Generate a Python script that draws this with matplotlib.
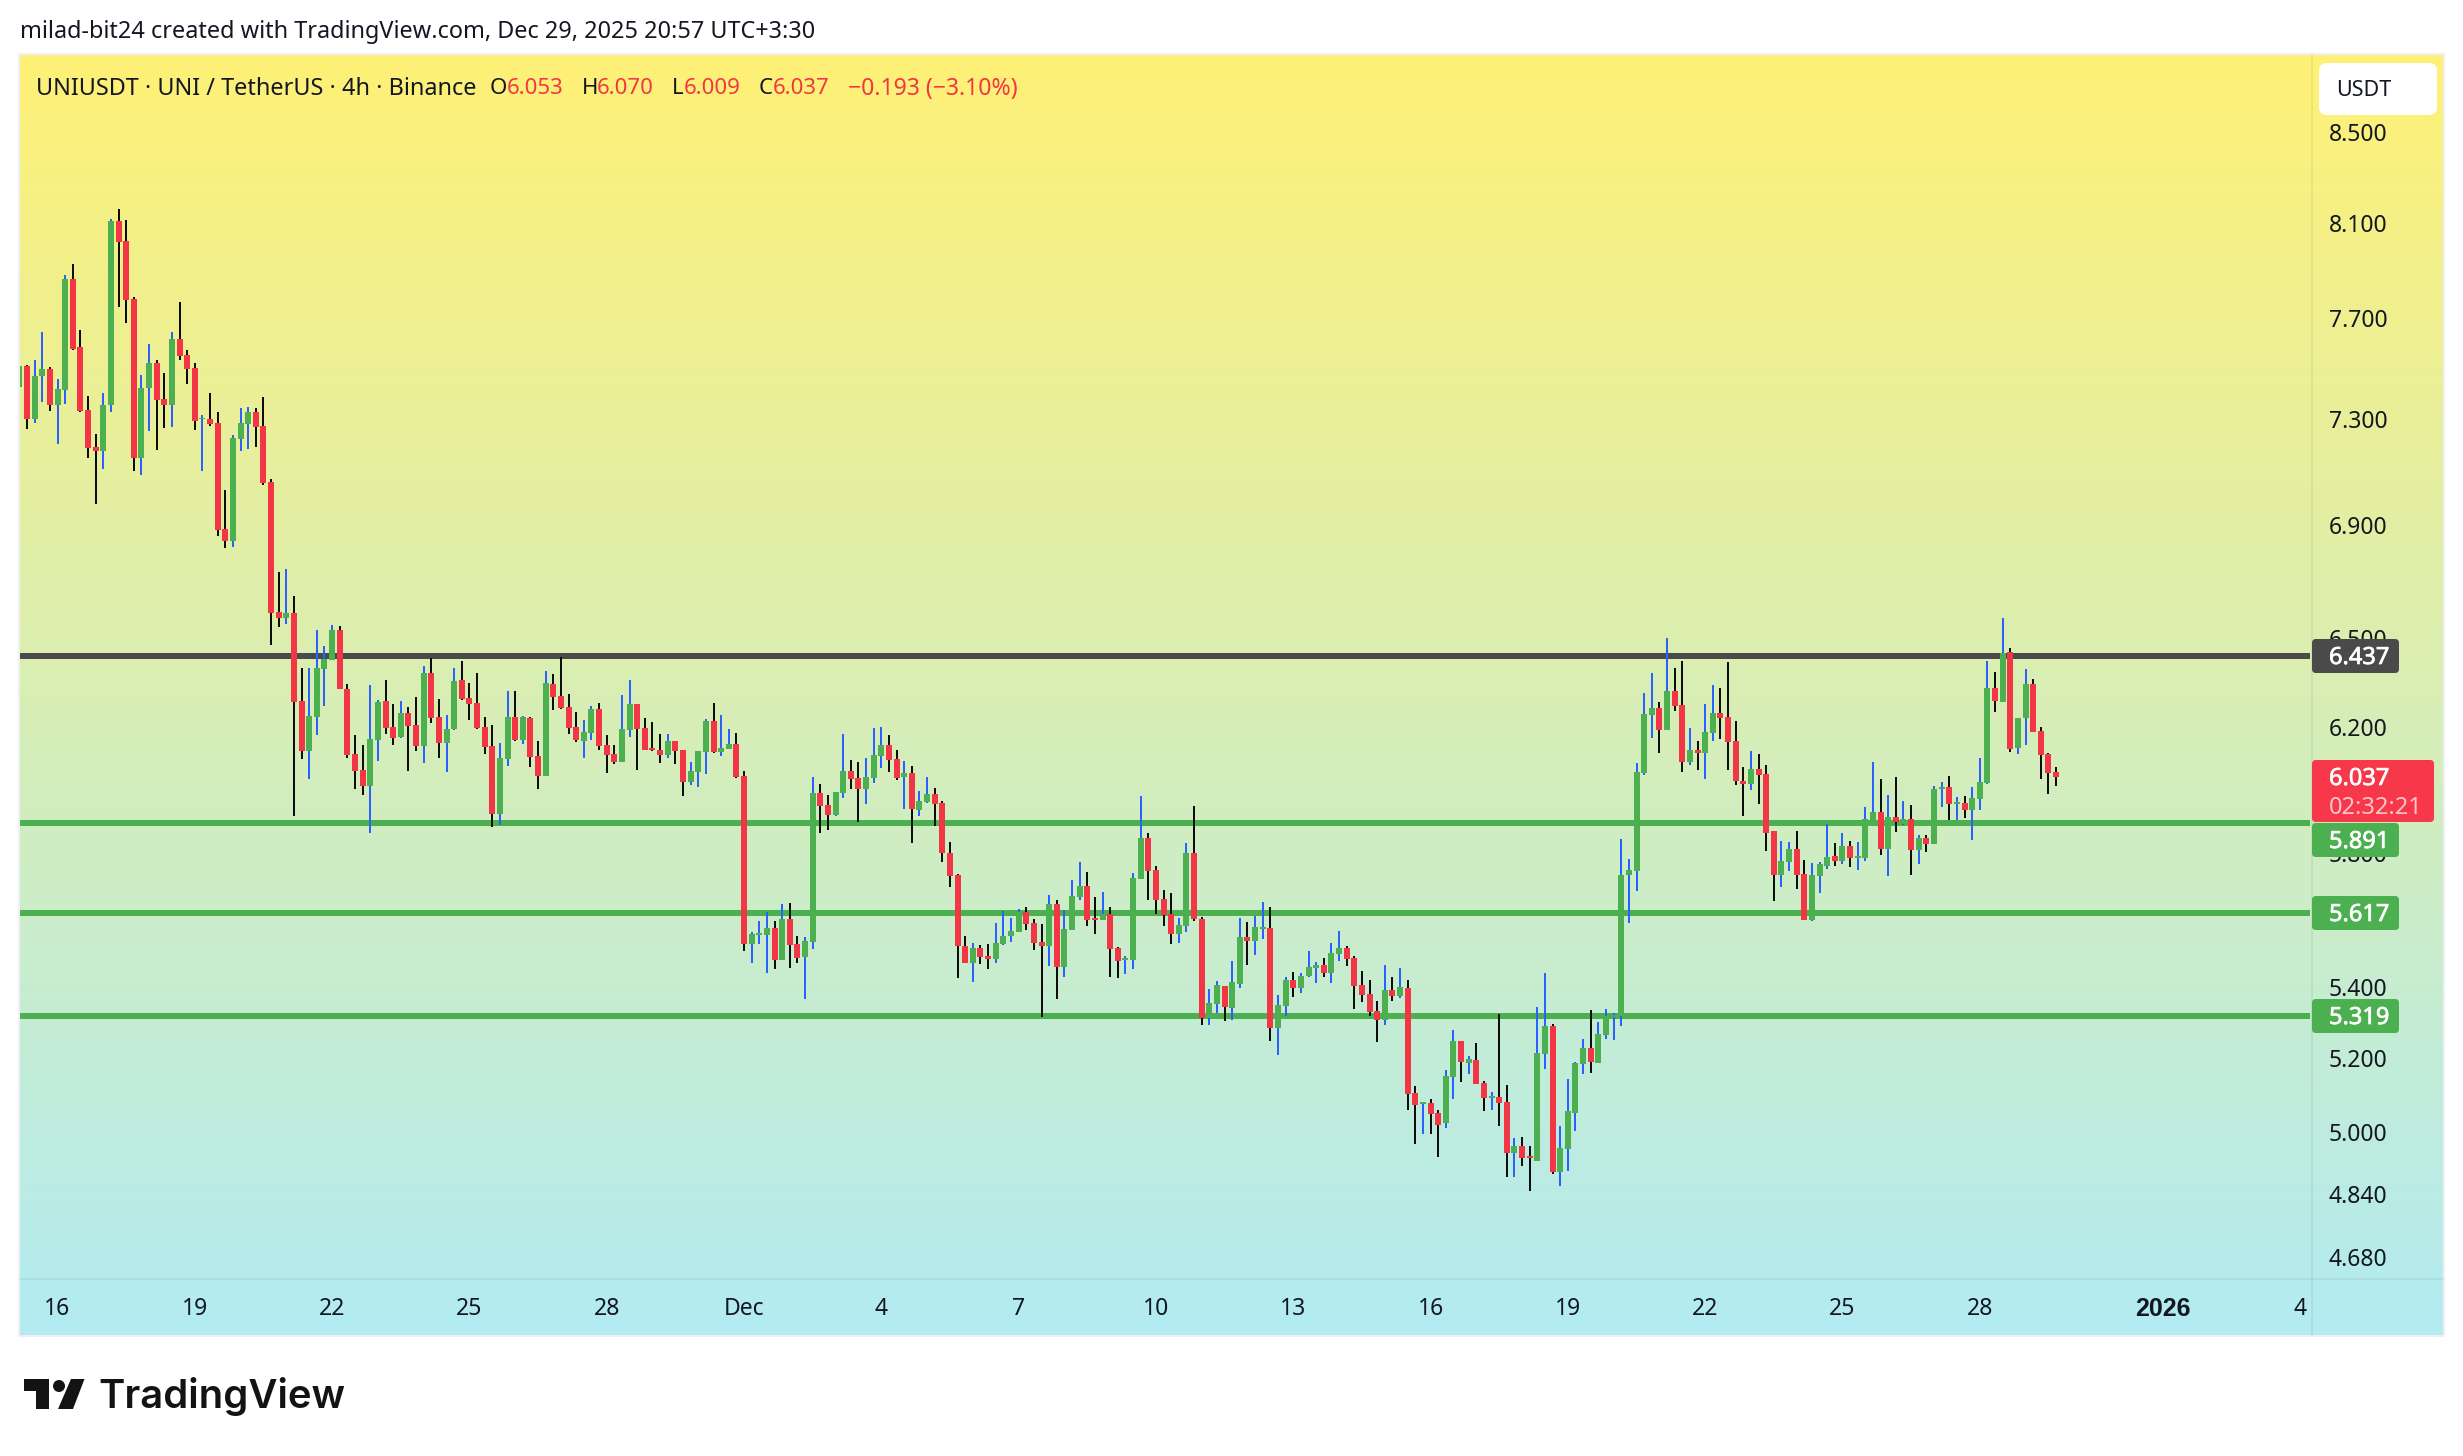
import numpy as np
import matplotlib
matplotlib.use("Agg")
import matplotlib.pyplot as plt
import matplotlib.patheffects as pe
from matplotlib.patches import FancyBboxPatch, Polygon, Circle, Rectangle
from matplotlib.ticker import NullLocator, FixedLocator, FixedFormatter

W, H = 2463, 1456
FONT = ["Noto Sans", "DejaVu Sans"]
plt.rcParams["font.family"] = FONT

# ---- data -------------------------------------------------------------
direction = ("GRGGRGGRRR" "RGGRRRGGRR" "GRRRGRRRGG" "GRRRRGRRGG" "GGRRRRGGRR" "GRRGRRGGRR"
             "RRRGGRGRRG" "RRRRGGRRRG" "GRRRRGRRGG" "GRGGRRGGGR" "GRRGGRRGGR" "RGGGRRGRGG"
             "RRRRRGRRGG" "GGRRRGRGGG" "RRGRRGGGRR" "RRGGRRGGRG" "GRGGRGGRGG" "GRGGRRRRRG"
             "RGRRGRRGGR" "GRRGRRGRRG" "GRGGGGRGGG" "GGGGGRGRRG" "RGGRRRRGRR" "RGGRRGGGRG"
             "RGGGRGRGRG" "RGGRGRGGGR" "GRGGRRRR")

highs = [
 7.52,7.513,7.530,7.645,7.505,7.457,7.877,7.925,7.654,7.390,
 7.242,7.402,8.117,8.160,8.113,7.789,7.472,7.597,7.530,7.478,
 7.645,7.768,7.570,7.521,7.316,7.402,7.325,7.028,7.239,7.343,
 7.348,7.343,7.387,7.071,6.731,6.742,6.647,6.398,6.398,6.527,
 6.472,6.545,6.542,6.342,6.174,6.141,6.339,6.290,6.357,6.277,
 6.287,6.267,6.300,6.404,6.432,6.293,6.240,6.398,6.419,6.347,
 6.378,6.232,6.206,6.147,6.319,6.319,6.236,6.232,6.153,6.387,
 6.376,6.434,6.309,6.249,6.222,6.269,6.279,6.173,6.140,6.305,
 6.356,6.275,6.229,6.215,6.176,6.176,6.153,6.124,6.085,6.121,
 6.225,6.279,6.239,6.193,6.180,6.056,5.561,5.593,5.620,5.593,
 5.644,5.647,5.549,5.546,6.037,6.015,5.980,5.989,6.176,6.092,
 6.085,6.098,6.196,6.199,6.173,6.124,6.088,6.072,5.992,6.037,
 6.002,5.961,5.832,5.734,5.549,5.529,5.522,5.525,5.587,5.623,
 5.602,5.629,5.635,5.599,5.584,5.671,5.656,5.626,5.716,5.771,
 5.740,5.665,5.680,5.635,5.517,5.490,5.737,5.977,5.860,5.759,
 5.686,5.677,5.602,5.829,5.945,5.605,5.395,5.418,5.404,5.476,
 5.602,5.590,5.608,5.650,5.635,5.378,5.430,5.444,5.441,5.505,
 5.473,5.485,5.529,5.564,5.520,5.490,5.447,5.421,5.361,5.464,
 5.430,5.456,5.421,5.124,5.082,5.089,5.059,5.168,5.279,5.249,
 5.207,5.243,5.137,5.107,5.324,5.126,4.984,4.987,4.963,5.344,
 5.440,5.296,5.016,5.145,5.190,5.255,5.335,5.302,5.338,5.327,
 5.841,5.780,6.082,6.312,6.380,6.282,6.499,6.396,6.420,6.196,
 6.153,6.275,6.339,6.329,6.416,6.219,6.069,6.121,6.111,6.075,
 5.867,5.835,5.832,5.867,5.777,5.768,5.771,5.889,5.829,5.860,
 5.835,5.832,5.942,6.085,6.031,5.980,6.037,5.961,5.948,5.854,
 5.854,6.008,6.021,6.040,5.973,5.977,6.005,6.098,6.420,6.383,
 6.570,6.464,6.229,6.394,6.358,6.199,6.114,6.070]

body_top = [
 7.509,7.509,7.469,7.497,7.497,7.418,7.864,7.864,7.582,7.336,
 7.193,7.355,8.108,8.108,8.022,7.780,7.421,7.521,7.521,7.379,
 7.617,7.617,7.552,7.500,7.304,7.298,7.286,6.887,7.227,7.286,
 7.325,7.328,7.274,7.061,6.590,6.586,6.586,6.287,6.237,6.398,
 6.426,6.527,6.527,6.326,6.112,6.059,6.161,6.283,6.287,6.201,
 6.247,6.247,6.207,6.378,6.378,6.234,6.194,6.354,6.357,6.296,
 6.280,6.199,6.137,6.098,6.232,6.232,6.232,6.229,6.104,6.346,
 6.342,6.302,6.265,6.199,6.183,6.259,6.259,6.140,6.111,6.193,
 6.275,6.275,6.196,6.130,6.124,6.153,6.153,6.124,6.056,6.121,
 6.219,6.219,6.130,6.144,6.144,6.040,5.555,5.558,5.572,5.572,
 5.599,5.599,5.525,5.534,5.986,5.986,5.948,5.989,6.056,6.056,
 6.034,6.037,6.108,6.140,6.140,6.095,6.050,6.050,5.961,5.983,
 5.983,5.955,5.798,5.731,5.520,5.514,5.514,5.490,5.529,5.549,
 5.564,5.620,5.620,5.587,5.531,5.644,5.644,5.570,5.668,5.699,
 5.699,5.602,5.614,5.614,5.514,5.485,5.722,5.845,5.845,5.746,
 5.659,5.614,5.581,5.798,5.798,5.599,5.355,5.407,5.404,5.415,
 5.546,5.546,5.575,5.575,5.572,5.350,5.421,5.421,5.433,5.459,
 5.464,5.464,5.499,5.514,5.514,5.485,5.407,5.381,5.332,5.392,
 5.392,5.401,5.398,5.105,5.081,5.078,5.051,5.151,5.249,5.249,
 5.198,5.196,5.132,5.097,5.094,5.081,4.963,4.965,4.937,5.216,
 5.290,5.290,4.958,5.056,5.187,5.229,5.229,5.268,5.319,5.321,
 5.731,5.746,6.053,6.242,6.262,6.262,6.318,6.318,6.272,6.124,
 6.124,6.183,6.245,6.245,6.232,6.153,6.024,6.063,6.063,6.047,
 5.867,5.774,5.810,5.810,5.734,5.731,5.765,5.786,5.789,5.819,
 5.819,5.789,5.904,5.926,5.926,5.910,5.910,5.904,5.904,5.845,
 5.845,5.999,6.005,6.005,5.958,5.955,5.970,6.021,6.328,6.328,
 6.447,6.450,6.229,6.342,6.342,6.186,6.111,6.053]

body_bottom = [
 7.426,7.298,7.298,7.466,7.355,7.355,7.414,7.576,7.331,7.189,
 7.178,7.175,7.355,8.019,7.775,7.151,7.151,7.421,7.375,7.355,
 7.355,7.549,7.497,7.293,7.298,7.281,6.884,6.844,6.844,7.224,
 7.281,7.269,7.057,6.586,6.569,6.567,6.283,6.122,6.122,6.234,
 6.394,6.422,6.325,6.109,6.057,6.010,6.010,6.158,6.197,6.164,
 6.168,6.204,6.136,6.136,6.230,6.148,6.148,6.194,6.293,6.277,
 6.197,6.134,5.920,5.920,6.095,6.157,6.157,6.101,6.040,6.040,
 6.299,6.262,6.196,6.157,6.153,6.179,6.137,6.108,6.085,6.085,
 6.189,6.193,6.124,6.124,6.108,6.108,6.121,6.021,6.021,6.053,
 6.117,6.117,6.117,6.127,6.037,5.525,5.525,5.552,5.552,5.479,
 5.479,5.522,5.485,5.487,5.531,5.945,5.917,5.917,5.986,6.031,
 5.999,5.999,6.034,6.104,6.092,6.034,6.037,5.936,5.932,5.958,
 5.951,5.798,5.728,5.520,5.470,5.470,5.487,5.482,5.482,5.525,
 5.549,5.561,5.584,5.529,5.520,5.520,5.459,5.459,5.567,5.665,
 5.596,5.596,5.596,5.511,5.476,5.479,5.479,5.719,5.743,5.656,
 5.611,5.555,5.555,5.578,5.599,5.313,5.313,5.353,5.344,5.341,
 5.410,5.534,5.534,5.570,5.285,5.285,5.347,5.398,5.398,5.433,
 5.456,5.441,5.441,5.496,5.482,5.404,5.378,5.330,5.307,5.307,
 5.375,5.375,5.102,5.072,5.075,5.048,5.021,5.024,5.149,5.190,
 5.187,5.129,5.091,5.091,5.078,4.947,4.947,4.932,4.932,4.926,
 5.213,4.895,4.895,4.955,5.053,5.184,5.190,5.187,5.265,5.316,
 5.319,5.731,5.743,6.050,6.239,6.189,6.189,6.269,6.085,6.085,
 6.114,6.114,6.180,6.229,6.150,6.024,6.015,6.015,6.044,5.860,
 5.731,5.731,5.771,5.731,5.596,5.596,5.728,5.759,5.774,5.774,
 5.783,5.783,5.783,5.889,5.810,5.810,5.895,5.889,5.807,5.807,
 5.826,5.826,5.999,5.951,5.951,5.932,5.932,5.967,6.018,6.285,
 6.282,6.127,6.130,6.229,6.183,6.108,6.050,6.037]

lows = [
 7.30,7.262,7.286,7.367,7.331,7.204,7.358,7.573,7.327,7.151,
 6.979,7.110,7.327,7.747,7.682,7.102,7.087,7.254,7.181,7.265,
 7.269,7.530,7.438,7.257,7.102,7.274,6.862,6.817,6.822,7.175,
 7.186,7.193,7.050,6.476,6.538,6.549,5.914,6.094,6.032,6.174,
 6.270,6.422,6.325,6.099,6.000,5.979,5.861,6.090,6.177,6.141,
 6.164,6.057,6.122,6.081,6.211,6.099,6.054,6.191,6.290,6.224,
 6.194,6.111,5.879,5.885,6.072,6.153,6.144,6.069,5.999,6.040,
 6.255,6.259,6.176,6.150,6.098,6.157,6.124,6.050,6.079,6.085,
 6.167,6.060,6.124,6.121,6.082,6.098,6.079,5.977,6.011,6.005,
 6.047,6.114,6.104,6.127,6.034,5.505,5.470,5.525,5.441,5.453,
 5.479,5.456,5.470,5.367,5.511,5.860,5.870,5.914,5.970,5.999,
 5.895,5.951,6.018,6.066,6.053,6.027,5.936,5.829,5.914,5.955,
 5.883,5.771,5.695,5.427,5.470,5.415,5.467,5.453,5.470,5.522,
 5.531,5.561,5.567,5.508,5.316,5.462,5.367,5.430,5.567,5.656,
 5.578,5.555,5.596,5.430,5.427,5.439,5.453,5.719,5.656,5.614,
 5.578,5.525,5.529,5.561,5.593,5.293,5.293,5.327,5.304,5.307,
 5.398,5.464,5.493,5.540,5.249,5.209,5.318,5.373,5.384,5.430,
 5.413,5.430,5.413,5.476,5.462,5.338,5.358,5.318,5.246,5.293,
 5.361,5.370,5.059,4.969,4.995,4.995,4.934,5.013,5.089,5.135,
 5.156,5.129,5.056,5.059,5.016,4.882,4.882,4.911,4.846,4.924,
 5.172,4.890,4.861,4.898,5.005,5.156,5.159,5.187,5.255,5.252,
 5.290,5.587,5.683,6.044,6.164,6.114,6.189,6.252,6.053,6.075,
 6.060,6.031,6.153,6.160,6.060,6.011,5.914,5.996,5.951,5.804,
 5.653,5.695,5.743,5.689,5.596,5.593,5.677,5.750,5.759,5.765,
 5.756,5.746,5.774,5.889,5.792,5.728,5.863,5.885,5.731,5.765,
 5.801,5.826,5.942,5.901,5.901,5.907,5.838,5.932,6.015,6.249,
 6.282,6.117,6.111,6.140,6.183,6.031,5.983,6.009]

level_prices = [6.437, 5.891, 5.617, 5.319]
level_colors = ["#4A4A4A", "#4CAF50", "#4CAF50", "#4CAF50"]

y_ticks = [8.5, 8.1, 7.7, 7.3, 6.9, 6.5, 6.2, 5.8, 5.4, 5.2, 5.0, 4.84, 4.68]
x_tick_pos = [5, 23, 41, 59, 77, 95, 113, 131, 149, 167, 185, 203, 221, 239, 257, 281, 299]
x_tick_labels = ["16", "19", "22", "25", "28", "Dec", "4", "7", "10", "13", "16", "19", "22", "25", "28", "2026", "4"]

# ---- colours ----------------------------------------------------------
UP, DOWN = "#4CAF50", "#F23645"
WICK_UP, WICK_DOWN = "#2962FF", "#0D0D0D"
INK = "#131722"
GRAD_TOP = np.array([255, 241, 118]) / 255
GRAD_BOT = np.array([178, 235, 242]) / 255
EDGE = "#EEF0F5"

# ---- layout in pixels -------------------------------------------------
PANEL_L, PANEL_R, PANEL_T, PANEL_B = 20, 2443, 55, 1335
PLOT_R, PLOT_B = 2312, 1279
STEP, X0 = 7.628, 19.37


def frac(l, t, r, b):
    return [l / W, 1 - b / H, (r - l) / W, (b - t) / H]


fig = plt.figure(figsize=(W / 100, H / 100), dpi=100, facecolor="white")

# gradient panel
bg = fig.add_axes(frac(PANEL_L, PANEL_T, PANEL_R, PANEL_B), zorder=0)
t = np.linspace(0, 1, 512)[:, None, None]
bg.imshow(GRAD_TOP[None, None, :] * (1 - t) + GRAD_BOT[None, None, :] * t, aspect="auto",
          interpolation="bilinear")
bg.axis("off")

# main chart
ax = fig.add_axes(frac(PANEL_L, PANEL_T, PLOT_R, PLOT_B), zorder=1)
ax.patch.set_alpha(0)
ax.set_yscale("log")
ax.set_ylim(4.626, 8.854)
ax.set_xlim((PANEL_L - X0) / STEP, (PLOT_R - X0) / STEP)

xs = np.arange(len(highs))
is_up = np.array([d == "G" for d in direction])
hi, lo = np.array(highs), np.array(lows)
top, bot = np.array(body_top), np.array(body_bottom)
opens = np.where(is_up, bot, top)
closes = np.where(is_up, top, bot)

for p, c in zip(level_prices, level_colors):
    ax.axhline(p, xmin=0, xmax=0.999, color=c, lw=6 * 0.72, zorder=2, solid_capstyle="butt")

ax.vlines(xs[is_up], lo[is_up], hi[is_up], color=WICK_UP, lw=2 * 0.72, zorder=3, antialiased=False)
ax.vlines(xs[~is_up], lo[~is_up], hi[~is_up], color=WICK_DOWN, lw=2 * 0.72, zorder=3, antialiased=False)
ax.bar(xs[is_up], (closes - opens)[is_up], bottom=opens[is_up], width=6 / STEP, color=UP, lw=0, zorder=4)
ax.bar(xs[~is_up], (opens - closes)[~is_up], bottom=closes[~is_up], width=6 / STEP, color=DOWN, lw=0, zorder=4)

for s in ax.spines.values():
    s.set_visible(False)
ax.yaxis.tick_right()
ax.yaxis.set_major_locator(FixedLocator(y_ticks))
ax.yaxis.set_major_formatter(FixedFormatter([f"{v:.3f}" for v in y_ticks]))
ax.yaxis.set_minor_locator(NullLocator())
ax.tick_params(axis="y", length=0, pad=12, labelsize=16.5, labelcolor=INK)
ax.set_xticks(x_tick_pos)
ax.set_xticklabels(x_tick_labels)
ax.tick_params(axis="x", length=0, pad=13, labelsize=16.5, labelcolor=INK)
for lab, txt in zip(ax.get_xticklabels(), x_tick_labels):
    if txt == "2026":
        lab.set_family(["Liberation Sans", "DejaVu Sans"])
        lab.set_fontweight("bold")
        lab.set_fontsize(18)

# chrome overlay in pixel coordinates
ov = fig.add_axes([0, 0, 1, 1], zorder=5)
ov.set_xlim(0, W)
ov.set_ylim(H, 0)
ov.axis("off")
ov.patch.set_alpha(0)

ov.add_patch(Rectangle((PANEL_L - 1, PANEL_T - 1), PANEL_R - PANEL_L + 2, PANEL_B - PANEL_T + 2,
                       fill=False, ec=EDGE, lw=1.5))
ov.plot([PLOT_R, PLOT_R], [PANEL_T, PANEL_B], color="#13172212", lw=1.2)
ov.plot([PANEL_L, PANEL_R], [PLOT_B, PLOT_B], color="#13172212", lw=1.2)


def box(l, t, r, b, color, rad=4):
    ov.add_patch(FancyBboxPatch((l + rad, t + rad), r - l - 2 * rad, b - t - 2 * rad,
                                boxstyle=f"round,pad={rad},rounding_size={rad}",
                                fc=color, ec="none", zorder=3))


LABEL_FS = 17
TX = 2329
STROKE = [pe.withStroke(linewidth=0.5, foreground="white")]
box(2312, 639, 2399, 673, "#4A4A4A")
box(2312, 760, 2434, 822, "#F7374A")
box(2312, 823, 2399, 857, "#4CAF50")
box(2312, 896, 2399, 930, "#4CAF50")
box(2312, 999, 2399, 1033, "#4CAF50")
for yy, s in [(658, "6.437"), (779, "6.037"), (842, "5.891"), (915, "5.617"), (1018, "5.319")]:
    ov.text(TX, yy, s, color="white", fontsize=LABEL_FS, va="center", zorder=4, path_effects=STROKE)
ov.text(TX, 808, "02:32:21", color="#FFC4CB", fontsize=LABEL_FS, va="center", zorder=4)

box(2319, 63, 2437, 115, "white", rad=8)
ov.text(2364, 91, "USDT", color=INK, fontsize=15.5, ha="center", va="center", zorder=4)

ov.text(20, 32, "milad-bit24 created with TradingView.com, Dec 29, 2025 20:57 UTC+3:30",
        color=INK, fontsize=16.9, va="center")
ov.text(36, 89, "UNIUSDT · UNI / TetherUS · 4h · Binance", color=INK, fontsize=16.9, va="center")
for x, s, col, fs in [(490, "O", INK, 16), (507, "6.053", DOWN, 16), (582, "H", INK, 16), (597, "6.070", DOWN, 16),
                      (672, "L", INK, 16), (684, "6.009", DOWN, 16), (759, "C", INK, 16), (773, "6.037", DOWN, 16),
                      (848, "−0.193 (−3.10%)", DOWN, 16.6)]:
    ov.text(x, 89, s, color=col, fontsize=fs, va="center")

# TradingView logo
LOGO = "#131313"
ov.add_patch(Polygon([(24, 1379), (49, 1379), (49, 1409), (36, 1409), (36, 1391), (24, 1391)], fc=LOGO, ec="none"))
ov.add_patch(Circle((59, 1386), 6, fc=LOGO, ec="none"))
ov.add_patch(Polygon([(71, 1379), (84.5, 1379), (73, 1409), (58, 1409)], fc=LOGO, ec="none"))
ov.text(98, 1397, "TradingView", color=LOGO, fontsize=28.8, family=["Inter", "DejaVu Sans"],
        fontweight="semibold", va="center")

fig.savefig("out.png", dpi=100, facecolor="white")
